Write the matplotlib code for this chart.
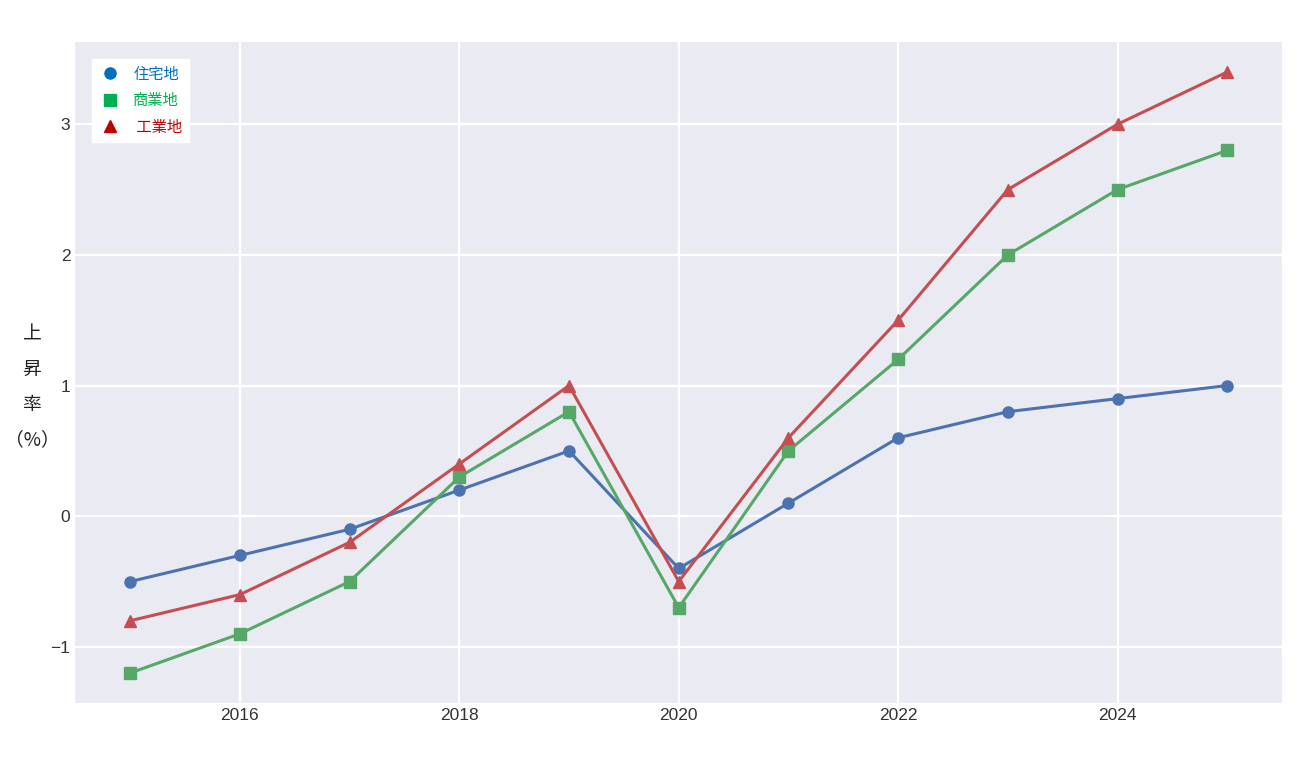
import matplotlib
matplotlib.use('Agg')
import matplotlib.pyplot as plt
from matplotlib.lines import Line2D

years = [2015, 2016, 2017, 2018, 2019, 2020, 2021, 2022, 2023, 2024, 2025]
residential = [-0.5, -0.3, -0.1, 0.2, 0.5, -0.4, 0.1, 0.6, 0.8, 0.9, 1.0]
commercial = [-1.2, -0.9, -0.5, 0.3, 0.8, -0.7, 0.5, 1.2, 2.0, 2.5, 2.8]
industrial = [-0.8, -0.6, -0.2, 0.4, 1.0, -0.5, 0.6, 1.5, 2.5, 3.0, 3.4]
labels = ['住宅地', '商業地', ' 工業地']

plt.style.use('seaborn-v0_8-darkgrid')
plt.rcParams['font.family'] = ['Liberation Sans', 'Noto Sans CJK JP']
plt.rcParams['grid.linewidth'] = 1.6

fig, ax = plt.subplots(figsize=(12.99, 7.76), dpi=100)
fig.subplots_adjust(left=0.058, right=0.987, top=0.946, bottom=0.094)

ax.plot(years, residential, color='#4C72B0', marker='o', markersize=8, linewidth=2.2)
ax.plot(years, commercial, color='#55A868', marker='s', markersize=8, linewidth=2.2)
ax.plot(years, industrial, color='#C44E52', marker='^', markersize=8, linewidth=2.2)

ax.set_yticks([-1, 0, 1, 2, 3])
ax.set_xticks([2016, 2018, 2020, 2022, 2024])
ax.tick_params(labelsize=12.5, colors='#333333')

ax.set_ylabel('上\n昇\n率\n（%）', rotation=0, fontsize=13.5,
              ha='center', va='center', linespacing=1.9, color='#222222',
              family=['Noto Sans CJK JP', 'DejaVu Sans'])
ax.yaxis.set_label_coords(-0.036, 0.478)

legend_colors = ['#0070C0', '#00B050', '#C00000']
handles = [
    Line2D([], [], color=legend_colors[0], marker='o', linestyle='', markersize=8),
    Line2D([], [], color=legend_colors[1], marker='s', linestyle='', markersize=8),
    Line2D([], [], color=legend_colors[2], marker='^', linestyle='', markersize=8),
]
leg = ax.legend(handles, labels, loc='upper left', frameon=True,
                prop={'family': ['Noto Sans CJK JP'], 'size': 11},
                fancybox=False, borderaxespad=1.1, labelspacing=0.62,
                handletextpad=0.75, borderpad=0.45, handlelength=1.5)
leg.get_frame().set_facecolor('white')
leg.get_frame().set_edgecolor('white')
leg.get_frame().set_alpha(1)
for t, c in zip(leg.get_texts(), legend_colors):
    t.set_color(c)

plt.savefig('out.png')
